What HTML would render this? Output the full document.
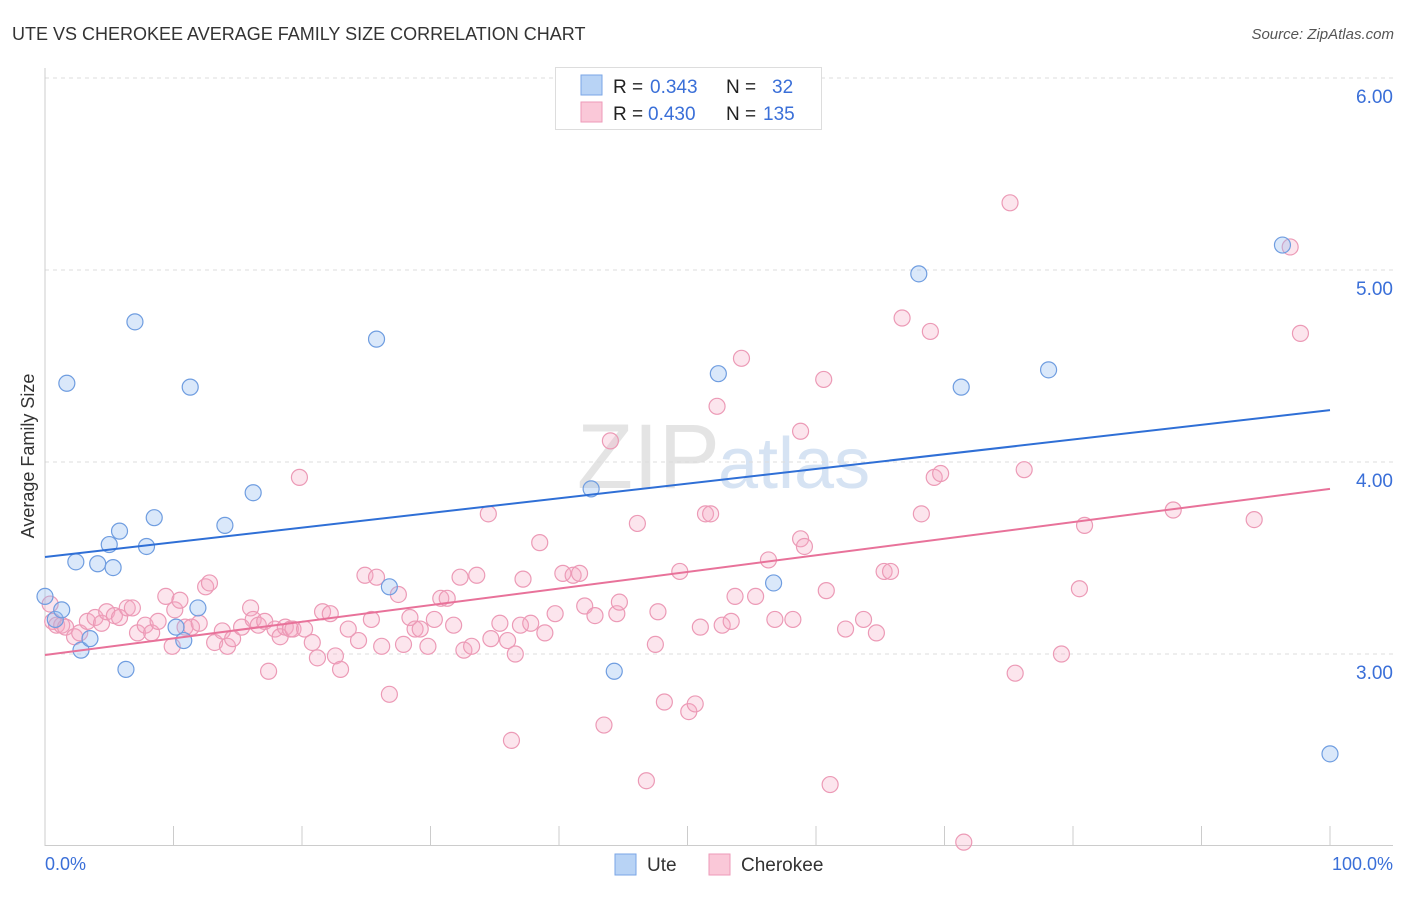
<!DOCTYPE html>
<html><head><meta charset="utf-8">
<style>
body{margin:0;background:#fff;font-family:"Liberation Sans",sans-serif;}
svg text{font-family:"Liberation Sans",sans-serif;}
</style></head>
<body>
<svg id="chart" width="1406" height="892" viewBox="0 0 1406 892">
<text x="12" y="40" font-size="18" fill="#333">UTE VS CHEROKEE AVERAGE FAMILY SIZE CORRELATION CHART</text>
<text x="1394" y="39" font-size="15" fill="#555" font-style="italic" text-anchor="end">Source: ZipAtlas.com</text>
<text x="720" y="488" font-size="92" fill="#e4e4e4" text-anchor="end" font-family="Liberation Serif">ZIP</text>
<text x="718" y="488" font-size="72" fill="#d6e3f3">atlas</text>
<g id="grid"></g>
<g id="axes"></g>
<g id="marks"></g>
<text transform="translate(34,456) rotate(-90)" font-size="18" fill="#333" text-anchor="middle">Average Family Size</text>
<text x="45" y="870" font-size="18" fill="#3a6fd8">0.0%</text>
<text x="1393" y="870" font-size="18" fill="#3a6fd8" text-anchor="end">100.0%</text>
<g>
<rect x="615" y="854" width="21" height="21" fill="#b8d3f5" stroke="#7aa6e6"/>
<text x="647" y="871" font-size="19" fill="#333">Ute</text>
<rect x="709" y="854" width="21" height="21" fill="#fac8d8" stroke="#ee9ab8"/>
<text x="741" y="871" font-size="19" fill="#333">Cherokee</text>
</g>
<g>
<rect x="555.5" y="67.5" width="266" height="62" fill="#fff" stroke="#ddd"/>
<rect x="581" y="75" width="21" height="20" fill="#b8d3f5" stroke="#7aa6e6"/>
<text x="613" y="93" font-size="19" fill="#222">R = <tspan fill="#3a6fd8" x="650">0.343</tspan><tspan x="726">N =</tspan><tspan fill="#3a6fd8" x="772">32</tspan></text>
<rect x="581" y="102" width="21" height="20" fill="#fac8d8" stroke="#ee9ab8"/>
<text x="613" y="120" font-size="19" fill="#222">R = <tspan fill="#3a6fd8" x="648">0.430</tspan><tspan x="726">N =</tspan><tspan fill="#3a6fd8" x="763">135</tspan></text>
</g>
</svg>
<script>
const yTicks=[3,4,5,6];
const yTickLabels=["3.00","4.00","5.00","6.00"];
const uteX=[0,0.8,1.3,1.7,2.4,2.8,3.5,4.1,5.0,5.3,5.8,6.3,7.0,7.9,8.5,10.2,10.8,11.3,11.9,14.0,16.2,25.8,26.8,42.5,44.3,52.4,56.7,68.0,71.3,78.1,96.3,100];
const uteY=[3.30,3.18,3.23,4.41,3.48,3.02,3.08,3.47,3.57,3.45,3.64,2.92,4.73,3.56,3.71,3.14,3.07,4.39,3.24,3.67,3.84,4.64,3.35,3.86,2.91,4.46,3.37,4.98,4.39,4.48,5.13,2.48];
const cheX=[0.4,0.6,0.9,1.3,1.6,2.3,2.7,3.3,3.9,4.4,4.8,5.4,5.8,6.4,6.8,7.2,7.8,8.3,8.8,9.4,9.9,10.1,10.5,10.9,11.4,12.0,12.5,12.8,13.2,13.8,14.2,14.6,15.3,16.0,16.2,16.6,17.1,17.4,17.9,18.3,18.7,19.1,19.3,19.8,20.2,20.8,21.2,21.6,22.2,22.6,23.0,23.6,24.4,24.9,25.4,25.8,26.2,26.8,27.5,27.9,28.4,28.8,29.2,29.8,30.3,30.8,31.3,31.8,32.3,32.6,33.2,33.6,34.5,34.7,35.4,36.0,36.3,36.6,37.0,37.2,37.8,38.5,38.9,39.7,40.3,41.1,41.6,42.0,42.8,43.5,44.0,44.5,44.7,46.1,46.8,47.5,47.7,48.2,49.4,50.1,50.6,51.0,51.4,51.8,52.3,52.7,53.4,53.7,54.2,55.3,56.3,56.8,58.2,58.8,59.1,60.6,60.8,61.1,62.3,63.7,64.7,65.3,65.8,66.7,68.2,68.9,69.2,69.7,71.5,75.1,75.5,76.2,79.1,80.5,80.9,87.8,94.1,96.9,97.7,58.8];
const cheY=[3.26,3.17,3.15,3.15,3.14,3.09,3.11,3.17,3.19,3.16,3.22,3.20,3.19,3.24,3.24,3.11,3.15,3.11,3.17,3.30,3.04,3.23,3.28,3.14,3.14,3.16,3.35,3.37,3.06,3.12,3.04,3.08,3.14,3.24,3.18,3.15,3.17,2.91,3.13,3.09,3.14,3.13,3.13,3.92,3.13,3.06,2.98,3.22,3.21,2.99,2.92,3.13,3.07,3.41,3.18,3.40,3.04,2.79,3.31,3.05,3.19,3.13,3.13,3.04,3.18,3.29,3.29,3.15,3.40,3.02,3.04,3.41,3.73,3.08,3.16,3.07,2.55,3.00,3.15,3.39,3.16,3.58,3.11,3.21,3.42,3.41,3.42,3.25,3.20,2.63,4.11,3.21,3.27,3.68,2.34,3.05,3.22,2.75,3.43,2.70,2.74,3.14,3.73,3.73,4.29,3.15,3.17,3.30,4.54,3.30,3.49,3.18,3.18,3.60,3.56,4.43,3.33,2.32,3.13,3.18,3.11,3.43,3.43,4.75,3.73,4.68,3.92,3.94,2.02,5.35,2.90,3.96,3.00,3.34,3.67,3.75,3.70,5.12,4.67,4.16];
const uteTrend=[3.505,4.27];
const cheTrend=[2.995,3.86];

const NS="http://www.w3.org/2000/svg";
const X0=45,X1=1330,YB=846,PPU=192;
function sx(v){return X0+(X1-X0)*v/100;}
function sy(v){return YB-(v-2)*PPU;}
function mk(tag,attrs,parent){const e=document.createElementNS(NS,tag);for(const k in attrs)e.setAttribute(k,attrs[k]);parent.appendChild(e);return e;}
const grid=document.getElementById('grid'),axes=document.getElementById('axes'),marks=document.getElementById('marks');
yTicks.forEach((t,i)=>{
  const l=mk('line',{x1:45,x2:1393,y1:sy(t),y2:sy(t),stroke:'#ddd','stroke-dasharray':'4,4'},grid);
  
  
  const tx=mk('text',{x:1393,y:sy(t)+25,'font-size':19,fill:'#3a6fd8','text-anchor':'end'},grid);
  tx.textContent=yTickLabels[i];
  
  
});
let a=mk('line',{x1:45,x2:45,y1:68,y2:846,stroke:'#ccc'},axes);


a=mk('line',{x1:45,x2:1393,y1:845.5,y2:845.5,stroke:'#ccc'},axes);


for(let i=0;i<=10;i++){
  const t=mk('line',{x1:sx(i*10),x2:sx(i*10),y1:826,y2:846,stroke:'#ccc'},axes);
  
  
}
cheX.forEach((x,i)=>{
  const c=mk('circle',{cx:sx(x),cy:sy(cheY[i]),r:8,fill:'rgba(246,170,196,0.3)',stroke:'#ec9ab6','stroke-width':1.2},marks);
  
  
});
uteX.forEach((x,i)=>{
  const c=mk('circle',{cx:sx(x),cy:sy(uteY[i]),r:8,fill:'rgba(150,190,240,0.35)',stroke:'#6f9de0','stroke-width':1.2},marks);
  
  
});
let tl=mk('line',{x1:sx(0),x2:sx(100),y1:sy(uteTrend[0]),y2:sy(uteTrend[1]),stroke:'#2f6fd6','stroke-width':2},marks);


tl=mk('line',{x1:sx(0),x2:sx(100),y1:sy(cheTrend[0]),y2:sy(cheTrend[1]),stroke:'#e8729a','stroke-width':2},marks);


</script>
</body></html>
